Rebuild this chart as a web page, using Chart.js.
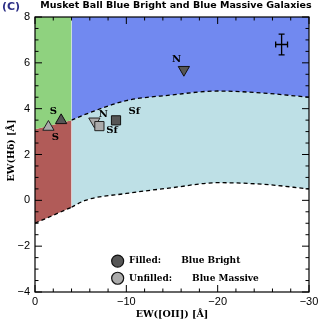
<!DOCTYPE html>
<html><head><meta charset="utf-8">
<script src="https://cdn.jsdelivr.net/npm/chart.js@4/dist/chart.umd.min.js"></script>
<style>html,body{margin:0;padding:0;background:#fff;}#wrap{width:327px;height:327px;position:relative;}</style>
</head><body><div id="wrap"><canvas id="c"></canvas></div>
<script>
// Region boundaries (dashed lines)
const boundaryX = [0, -4, -5.5, -10, -15, -20, -25, -30];
const lowerY    = [-1.0, -0.3, 0.0, 0.3, 0.55, 0.77, 0.7, 0.5];
const upperY    = [3.1, 3.5, 3.75, 4.35, 4.6, 4.77, 4.68, 4.5];
// Blue Bright (filled, dark) galaxies
const brightX = [-2.86, -8.87, -16.3];
const brightY = [3.49, 3.49, 5.7];
const brightShape = ['triangle', 'rect', 'triangle'];
const brightRot = [0, 0, 180];
const brightLabels = ['S', 'Sf', 'N'];
const brightLabelX = [-2.02, -10.87, -15.5];
const brightLabelY = [3.86, 3.86, 6.16];
// Blue Massive (unfilled, light) galaxies
const massiveX = [-1.47, -6.5, -7.05];
const massiveY = [3.2, 3.45, 3.24];
const massiveShape = ['triangle', 'triangle', 'rect'];
const massiveRot = [0, 180, 0];
const massiveLabels = ['S', 'N', 'Sf'];
const massiveLabelX = [-2.24, -7.49, -8.44];
const massiveLabelY = [2.76, 3.76, 3.03];
// Typical error bar
const errX = [-27.0], errY = [6.8], errXs = [0.65], errYs = [0.45];
// Legend
const legendX = [-9.05, -9.05];
const legendY = [-2.65, -3.4];
const legendKeys = ['Filled:', 'Unfilled:'];
const legendKeyX = [-10.3, -10.3];
const legendNames = ['Blue Bright', 'Blue Massive'];
const legendNameX = [-16.0, -17.2];
// Ticks
const xMajor = [0, -10, -20, -30];
const yMajor = [-4, -2, 0, 2, 4, 6, 8];

const pts = (xs, ys) => xs.map((v, i) => ({x: v, y: ys[i]}));
const minus = v => (v < 0 ? '\u2212' + Math.abs(v) : String(v));

const DARK = '#565656', LIGHT = '#ababab';
const GREEN = '#8fd27f', RED = '#b15b58', BLUE = '#7189f0', CYAN = '#bee0e6';

const deco = {
  id: 'deco',
  afterDraw(chart) {
    const {ctx, chartArea: a, scales: {x, y}} = chart;
    ctx.save();
    // error bar
    ctx.strokeStyle = '#000'; ctx.lineWidth = 1.3;
    errX.forEach((ex, i) => {
      const cx = x.getPixelForValue(ex), cy = y.getPixelForValue(errY[i]);
      const x1 = x.getPixelForValue(ex + errXs[i]), x2 = x.getPixelForValue(ex - errXs[i]);
      const y1 = y.getPixelForValue(errY[i] + errYs[i]), y2 = y.getPixelForValue(errY[i] - errYs[i]);
      ctx.beginPath();
      ctx.moveTo(x1, cy); ctx.lineTo(x2, cy);
      ctx.moveTo(cx, y1); ctx.lineTo(cx, y2);
      ctx.moveTo(cx - 3, y1); ctx.lineTo(cx + 3, y1);
      ctx.moveTo(cx - 3, y2); ctx.lineTo(cx + 3, y2);
      ctx.moveTo(x1, cy - 3); ctx.lineTo(x1, cy + 3);
      ctx.moveTo(x2, cy - 3); ctx.lineTo(x2, cy + 3);
      ctx.stroke();
    });
    // frame
    ctx.lineWidth = 1.2;
    ctx.strokeRect(a.left, a.top, a.right - a.left, a.bottom - a.top);
    // ticks inward
    ctx.lineWidth = 1;
    ctx.beginPath();
    for (let v = 0; v >= -30; v -= 2) {
      const px = x.getPixelForValue(v);
      const len = (v % 10 === 0) ? 7 : 3.5;
      ctx.moveTo(px, a.bottom); ctx.lineTo(px, a.bottom - len);
      ctx.moveTo(px, a.top); ctx.lineTo(px, a.top + len);
    }
    for (let v = -4; v <= 8; v += 0.5) {
      const py = y.getPixelForValue(v);
      const len = (v % 2 === 0) ? 7 : 3.5;
      ctx.moveTo(a.left, py); ctx.lineTo(a.left + len, py);
      ctx.moveTo(a.right, py); ctx.lineTo(a.right - len, py);
    }
    ctx.stroke();
    // texts
    ctx.fillStyle = '#000';
    ctx.textAlign = 'center'; ctx.textBaseline = 'middle';
    ctx.font = 'bold 10px "DejaVu Serif"';
    const lab = (t, lx, ly) => ctx.fillText(t, x.getPixelForValue(lx), y.getPixelForValue(ly));
    brightLabels.forEach((t, i) => lab(t, brightLabelX[i], brightLabelY[i]));
    massiveLabels.forEach((t, i) => lab(t, massiveLabelX[i], massiveLabelY[i]));
    ctx.textAlign = 'left';
    ctx.font = 'bold 9px "DejaVu Serif"';
    legendKeys.forEach((t, i) => ctx.fillText(t, x.getPixelForValue(legendKeyX[i]), y.getPixelForValue(legendY[i])));
    legendNames.forEach((t, i) => ctx.fillText(t, x.getPixelForValue(legendNameX[i]), y.getPixelForValue(legendY[i])));
    // title
    ctx.textAlign = 'center';
    ctx.font = 'bold 9.5px "DejaVu Sans"';
    ctx.fillText('Musket Ball Blue Bright and Blue Massive Galaxies', 176, 6);
    ctx.fillStyle = '#2d2f86';
    ctx.font = 'bold 11px "DejaVu Sans"';
    ctx.textAlign = 'left';
    ctx.fillText('(C)', 2, 7);
    // axis titles
    ctx.fillStyle = '#000';
    ctx.textAlign = 'center';
    ctx.font = 'bold 9.5px "DejaVu Serif"';
    ctx.fillText('EW([OII]) [\u00c5]', (a.left + a.right) / 2, 315);
    ctx.save();
    ctx.translate(12, (a.top + a.bottom) / 2 - 4);
    ctx.rotate(-Math.PI / 2);
    ctx.fillText('EW(H\u03b4) [\u00c5]', 0, 0);
    ctx.restore();
    ctx.restore();
  }
};

const L = 2; // left segment uses first two boundary points
new Chart(document.getElementById('c'), {
  type: 'line',
  data: {
    datasets: [
      {data: pts(massiveX, massiveY), showLine: false, pointStyle: massiveShape, pointRotation: massiveRot,
       pointRadius: 6.5, backgroundColor: LIGHT, borderColor: '#222', borderWidth: 1, pointBorderWidth: 1, order: 0},
      {data: pts(brightX, brightY), showLine: false, pointStyle: brightShape, pointRotation: brightRot,
       pointRadius: 6.5, backgroundColor: DARK, borderColor: '#111', borderWidth: 1, pointBorderWidth: 1, order: 1},
      {data: pts(legendX, legendY), showLine: false, pointStyle: 'circle', pointRadius: 6,
       backgroundColor: [DARK, LIGHT], pointBackgroundColor: [DARK, LIGHT], borderColor: '#111', pointBorderWidth: 1.2, order: 2},
      {data: pts(boundaryX.slice(0, L), upperY.slice(0, L)), pointRadius: 0, borderWidth: 0,
       backgroundColor: GREEN, fill: 'end', tension: 0, order: 10},
      {data: pts(boundaryX.slice(0, L), lowerY.slice(0, L)), pointRadius: 0, borderWidth: 1.3,
       borderColor: '#000', borderDash: [4, 3], backgroundColor: RED, fill: 3, tension: 0, order: 11},
      {data: pts(boundaryX.slice(L - 1), upperY.slice(L - 1)), pointRadius: 0, borderWidth: 1.3,
       borderColor: '#000', borderDash: [4, 3], backgroundColor: BLUE, fill: 'end', cubicInterpolationMode: 'monotone', order: 12},
      {data: pts(boundaryX.slice(L - 1), lowerY.slice(L - 1)), pointRadius: 0, borderWidth: 1.3,
       borderColor: '#000', borderDash: [4, 3], backgroundColor: CYAN, fill: 5, cubicInterpolationMode: 'monotone', order: 13}
    ]
  },
  options: {
    responsive: true, maintainAspectRatio: false, animation: false,
    devicePixelRatio: 1,
    layout: {padding: {top: 17, right: 18, left: 0, bottom: 0}},
    plugins: {legend: {display: false}, tooltip: {enabled: false}},
    scales: {
      x: {type: 'linear', min: -30, max: 0, reverse: true,
          grid: {display: false, drawTicks: false}, border: {display: false},
          afterFit: s => { s.height = 35; },
          afterBuildTicks: s => { s.ticks = xMajor.map(v => ({value: v})); },
          ticks: {color: '#000', padding: 3, maxRotation: 0, font: {family: 'Liberation Sans', size: 11}, callback: v => minus(v)}},
      y: {type: 'linear', min: -4, max: 8,
          grid: {display: false, drawTicks: false}, border: {display: false},
          afterFit: s => { s.width = 35; },
          afterBuildTicks: s => { s.ticks = yMajor.map(v => ({value: v})); },
          ticks: {color: '#000', padding: 5, font: {family: 'Liberation Sans', size: 11}, callback: v => minus(v)}}
    }
  },
  plugins: [deco]
});
</script></body></html>
